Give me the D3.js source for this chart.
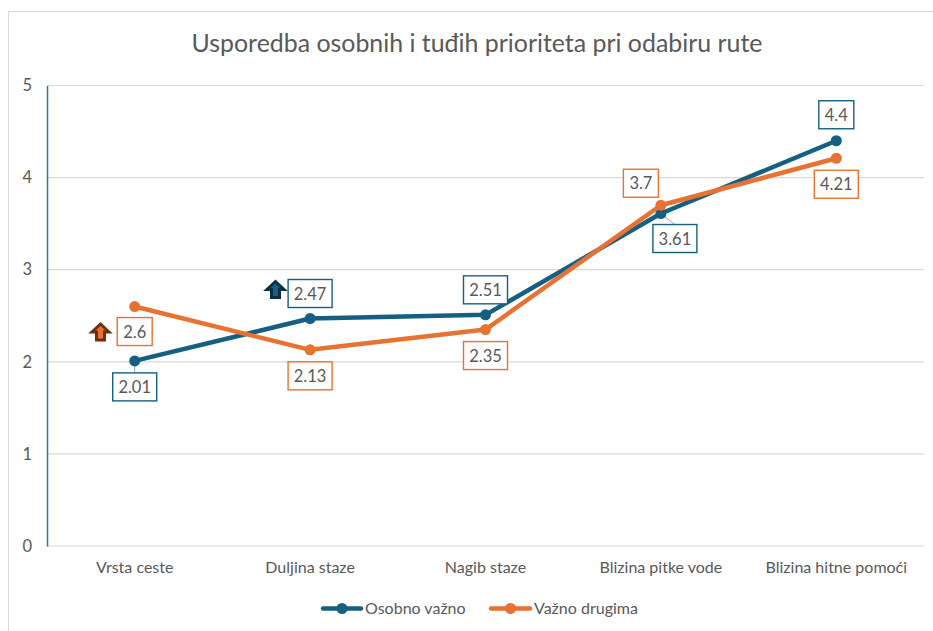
<!DOCTYPE html>
<html>
<head>
<meta charset="utf-8">
<script src="https://cdn.jsdelivr.net/npm/d3@7"></script>
<style>
  html, body { margin: 0; padding: 0; background: #fff; }
  svg { display: block; }
  text { font-family: Lato, "Open Sans", sans-serif; fill: #595959; }
</style>
</head>
<body>
<div id="chart"></div>
<script>
const categories = ['Vrsta ceste', 'Duljina staze', 'Nagib staze', 'Blizina pitke vode', 'Blizina hitne pomoći'];
const osobnoVazno = [2.01, 2.47, 2.51, 3.61, 4.4];
const vaznoDrugima = [2.6, 2.13, 2.35, 3.7, 4.21];
const yTicks = [0, 1, 2, 3, 4, 5];
const seriesNames = ['Osobno važno', 'Važno drugima'];
const title = 'Usporedba osobnih i tuđih prioriteta pri odabiru rute';

const blue = '#156082';
const orange = '#e97132';

const width = 933, height = 631;
const plot = {left: 47, right: 924, top: 85.5, bottom: 546};

// label box centre, relative to its point
const blueOffsets = [[0, 26], [0, -25], [0, -25], [14, 25], [0, -26]];
const orangeOffsets = [[0, 25], [0, 26], [0, 26], [-20, -22], [0, 26]];

const svg = d3.select('#chart').append('svg')
  .attr('width', width)
  .attr('height', height);

// outer chart frame
svg.append('rect')
  .attr('x', 8.5).attr('y', 11.5)
  .attr('width', 930).attr('height', 630)
  .attr('fill', '#fff')
  .attr('stroke', '#d9d9d9')
  .attr('stroke-width', 1);

const x = d3.scaleBand().domain(categories).range([plot.left, plot.right]);
const y = d3.scaleLinear().domain([0, 5]).range([plot.bottom, plot.top]);
const px = d => x(d) + x.bandwidth() / 2;

// gridlines
svg.append('g').selectAll('line').data(yTicks).enter().append('line')
  .attr('x1', plot.left).attr('x2', plot.right)
  .attr('y1', d => y(d)).attr('y2', d => y(d))
  .attr('stroke', '#d9d9d9')
  .attr('stroke-width', 1.2);

// y axis
const yAxis = svg.append('g')
  .attr('transform', `translate(${plot.left},0)`)
  .call(d3.axisLeft(y).tickValues(yTicks).tickSize(0).tickPadding(15).tickFormat(d3.format('d')));
yAxis.select('.domain').attr('stroke', blue).attr('stroke-width', 1.5).attr('opacity', 0.85);
yAxis.selectAll('text').style('font-size', '16.5px').style('font-family', null);

// x axis
const xAxis = svg.append('g')
  .attr('transform', `translate(0,${plot.bottom})`)
  .call(d3.axisBottom(x).tickSize(0).tickPadding(16));
xAxis.select('.domain').remove();
xAxis.selectAll('text').style('font-size', '16px').style('font-family', null);

svg.append('text')
  .attr('x', 477).attr('y', 52)
  .attr('text-anchor', 'middle')
  .style('font-size', '24.9px')
  .text(title);

const line = d3.line().x((d, i) => px(categories[i])).y(d => y(d));

function drawSeries(values, color) {
  svg.append('path')
    .datum(values)
    .attr('d', line)
    .attr('fill', 'none')
    .attr('stroke', color)
    .attr('stroke-width', 4.5)
    .attr('stroke-linecap', 'round')
    .attr('stroke-linejoin', 'round');
  svg.append('g').selectAll('circle').data(values).enter().append('circle')
    .attr('cx', (d, i) => px(categories[i]))
    .attr('cy', d => y(d))
    .attr('r', 5.5)
    .attr('fill', color);
}

function drawLabels(values, color, offsets) {
  const g = svg.append('g');
  values.forEach((v, i) => {
    const cx = px(categories[i]) + offsets[i][0];
    const cy = y(v) + offsets[i][1];
    const w = String(v).length > 3 ? 44 : 35;
    g.append('rect')
      .attr('x', cx - w / 2).attr('y', cy - 14)
      .attr('width', w).attr('height', 28)
      .attr('fill', '#fff')
      .attr('stroke', color)
      .attr('stroke-width', 1.4);
    g.append('text')
      .attr('x', cx).attr('y', cy + 6)
      .attr('text-anchor', 'middle')
      .style('font-size', '16.5px')
      .text(v);
  });
}

// leader lines for the labels that sit away from their point
function leader(x1, y1, x2, y2) {
  svg.append('line')
    .attr('x1', x1).attr('y1', y1).attr('x2', x2).attr('y2', y2)
    .attr('stroke', '#a6a6a6').attr('stroke-width', 1);
}
leader(px(categories[0]), y(osobnoVazno[0]), px(categories[0]), y(osobnoVazno[0]) + 12);
leader(px(categories[3]), y(osobnoVazno[3]), px(categories[3]) + 14, y(osobnoVazno[3]) + 11);

drawSeries(osobnoVazno, blue);
drawSeries(vaznoDrugima, orange);
drawLabels(osobnoVazno, blue, blueOffsets);
drawLabels(vaznoDrugima, orange, orangeOffsets);

// small up arrows next to the first values
function arrow(cx, cy, fill, stroke) {
  const p = d3.path();
  p.moveTo(cx, cy - 8);
  p.lineTo(cx + 8.5, cy);
  p.lineTo(cx + 4, cy);
  p.lineTo(cx + 4, cy + 8);
  p.lineTo(cx - 4, cy + 8);
  p.lineTo(cx - 4, cy);
  p.lineTo(cx - 8.5, cy);
  p.closePath();
  svg.append('path').attr('d', p.toString())
    .attr('fill', fill)
    .attr('stroke', stroke)
    .attr('stroke-width', 3);
}
arrow(100.5, 332, orange, '#6e2f10');
arrow(275.5, 289.5, blue, '#0a2f41');

// legend
const legend = svg.append('g');
const legendItems = [
  {name: seriesNames[0], color: blue, x1: 323, x2: 361, tx: 365},
  {name: seriesNames[1], color: orange, x1: 491, x2: 530, tx: 534}
];
legendItems.forEach(it => {
  legend.append('line')
    .attr('x1', it.x1).attr('x2', it.x2).attr('y1', 608.5).attr('y2', 608.5)
    .attr('stroke', it.color).attr('stroke-width', 4.5).attr('stroke-linecap', 'round');
  legend.append('circle')
    .attr('cx', (it.x1 + it.x2) / 2).attr('cy', 608.5).attr('r', 5.5).attr('fill', it.color);
  legend.append('text')
    .attr('x', it.tx).attr('y', 614)
    .style('font-size', '16px')
    .text(it.name);
});
</script>
</body>
</html>
